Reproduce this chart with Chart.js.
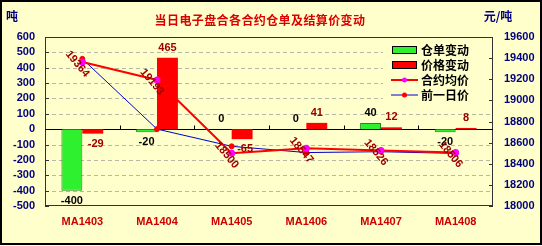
<!DOCTYPE html>
<html>
<head>
<meta charset="utf-8">
<script src="https://cdn.jsdelivr.net/npm/chart.js@4.4.1/dist/chart.umd.min.js"></script>
<style>
  html, body { margin: 0; padding: 0; background: #FFFFCC; }
  canvas { display: block; }
</style>
</head>
<body>
<canvas id="c" width="542" height="246"></canvas>
<script>
// Contracts and daily figures
const categories = ['MA1403', 'MA1404', 'MA1405', 'MA1406', 'MA1407', 'MA1408'];
const warrantChange = [-400, -20, 0, 0, 40, -20];          // 仓单变动 (吨)
const priceChange = [-29, 465, -65, 41, 12, 8];             // 价格变动 (元/吨)
const avgPrice = [19364, 19193, 18500, 18547, 18526, 18506];  // 合约均价
const prevPrice = [19393, 18728, 18565, 18506, 18514, 18498]; // 前一日价
const leftAxis = { min: -500, max: 600, step: 100 };
const rightAxis = { min: 18000, max: 19600, step: 200 };

const titleText = '当日电子盘合各合约仓单及结算价变动';
const leftUnit = '吨';
const rightUnit = '元/吨';
const legendItems = [
  { text: '仓单变动', kind: 'box', color: '#2EF02E' },
  { text: '价格变动', kind: 'box', color: '#FF0000' },
  { text: '合约均价', kind: 'line', color: '#FF0000', marker: '#FF00FF' },
  { text: '前一日价', kind: 'line', color: '#0000CC', marker: '#FF0000' }
];

const BG = '#FFFFCC';
const NUM_FONT = 'bold 11px "Liberation Sans", Arial, sans-serif';
const CJK_FONT = '"Noto Sans CJK SC", sans-serif';
const tickFont = { family: '"Liberation Sans", Arial, sans-serif', size: 11, weight: 'bold' };

const decorPlugin = {
  id: 'decor',
  beforeDraw(chart) {
    const ctx = chart.ctx;
    ctx.save();
    ctx.fillStyle = BG;
    ctx.fillRect(0, 0, chart.width, chart.height);
    ctx.restore();
  },
  beforeDatasetsDraw(chart) {
    const ctx = chart.ctx;
    const a = chart.chartArea;
    const y = chart.scales.y;
    ctx.save();
    // dashed horizontal grid
    ctx.strokeStyle = '#B8B8A8';
    ctx.lineWidth = 1;
    ctx.setLineDash([4, 3]);
    for (let v = leftAxis.min + leftAxis.step; v < leftAxis.max; v += leftAxis.step) {
      if (v === 0) continue;
      const py = Math.round(y.getPixelForValue(v)) + 0.5;
      ctx.beginPath(); ctx.moveTo(a.left, py); ctx.lineTo(a.right, py); ctx.stroke();
    }
    ctx.setLineDash([]);
    // legend backing
    ctx.fillStyle = BG;
    ctx.fillRect(383, a.top + 2, 107, 66);
    // plot frame
    ctx.strokeStyle = '#333';
    ctx.strokeRect(a.left + 0.5, a.top + 0.5, a.right - a.left - 1, a.bottom - a.top - 1);
    // axis tick marks
    for (let v = leftAxis.min; v <= leftAxis.max; v += leftAxis.step) {
      const py = Math.round(y.getPixelForValue(v)) + 0.5;
      ctx.beginPath(); ctx.moveTo(a.left, py); ctx.lineTo(a.left + 4, py); ctx.stroke();
    }
    const y1 = chart.scales.y1;
    for (let v = rightAxis.min; v <= rightAxis.max; v += rightAxis.step) {
      const py = Math.round(y1.getPixelForValue(v)) + 0.5;
      ctx.beginPath(); ctx.moveTo(a.right - 4, py); ctx.lineTo(a.right, py); ctx.stroke();
    }
    // zero line with category separators
    const zy = Math.round(y.getPixelForValue(0)) + 0.5;
    ctx.strokeStyle = '#000';
    ctx.beginPath(); ctx.moveTo(a.left, zy); ctx.lineTo(a.right, zy); ctx.stroke();
    const n = categories.length;
    const w = (a.right - a.left) / n;
    for (let i = 1; i < n; i++) {
      const px = Math.round(a.left + w * i) + 0.5;
      ctx.beginPath(); ctx.moveTo(px, zy); ctx.lineTo(px, zy - 4); ctx.stroke();
    }
    ctx.restore();
  },
  afterDatasetsDraw(chart) {
    const ctx = chart.ctx;
    ctx.save();
    ctx.font = NUM_FONT;
    ctx.textAlign = 'center';
    ctx.textBaseline = 'middle';
    // bar value labels
    [0, 1].forEach(di => {
      const meta = chart.getDatasetMeta(di);
      const data = chart.data.datasets[di].data;
      ctx.fillStyle = di === 0 ? '#000000' : '#A00000';
      meta.data.forEach((bar, i) => {
        const v = data[i];
        const py = v < 0 ? bar.y + 10 : bar.y - 10;
        ctx.fillText(String(v), bar.x + (di === 1 && v < 0 ? 3 : 0), py);
      });
    });
    // rotated average-price labels
    const lm = chart.getDatasetMeta(2);
    ctx.fillStyle = '#A00000';
    lm.data.forEach((pt, i) => {
      ctx.save();
      ctx.translate(pt.x - 5, pt.y + 2);
      ctx.rotate(50 * Math.PI / 180);
      ctx.fillText(String(avgPrice[i]), 0, 0);
      ctx.restore();
    });
    ctx.restore();
  },
  afterDraw(chart) {
    const ctx = chart.ctx;
    ctx.save();
    // title and units
    ctx.textBaseline = 'middle';
    ctx.textAlign = 'center';
    ctx.fillStyle = '#DD0000';
    ctx.font = 'bold 12px ' + CJK_FONT;
    ctx.letterSpacing = '0.4px';
    ctx.fillText(titleText, 260, 20);
    ctx.letterSpacing = '0px';
    ctx.fillStyle = '#000080';
    ctx.font = 'bold 12px ' + CJK_FONT;
    ctx.fillText(leftUnit, 12, 16);
    ctx.fillText(rightUnit, 498, 16);
    // legend
    ctx.textAlign = 'left';
    legendItems.forEach((it, i) => {
      const cy = 50 + i * 15;
      if (it.kind === 'box') {
        ctx.fillStyle = it.color;
        ctx.fillRect(392, cy - 4, 25, 8);
        ctx.strokeStyle = '#000';
        ctx.lineWidth = 1;
        ctx.strokeRect(392.5, cy - 3.5, 24, 7);
      } else {
        ctx.strokeStyle = it.color;
        ctx.lineWidth = it.color === '#FF0000' ? 2 : 1;
        ctx.beginPath(); ctx.moveTo(391, cy); ctx.lineTo(418, cy); ctx.stroke();
        ctx.fillStyle = it.marker;
        ctx.beginPath(); ctx.arc(404.5, cy, 2.5, 0, Math.PI * 2); ctx.fill();
      }
      ctx.fillStyle = '#000';
      ctx.font = 'bold 12px ' + CJK_FONT;
      ctx.fillText(it.text, 421, cy);
    });
    // outer frame
    ctx.strokeStyle = '#000';
    ctx.lineWidth = 2;
    ctx.strokeRect(1, 1, chart.width - 2, chart.height - 3);
    ctx.restore();
  }
};

new Chart(document.getElementById('c'), {
  type: 'bar',
  data: {
    labels: categories,
    datasets: [
      { type: 'bar', label: '仓单变动', data: warrantChange, yAxisID: 'y', order: 3,
        backgroundColor: '#2EF02E', borderColor: '#1A8A1A', borderWidth: 1,
        categoryPercentage: 0.56, barPercentage: 1 },
      { type: 'bar', label: '价格变动', data: priceChange, yAxisID: 'y', order: 3,
        backgroundColor: '#FF0000', borderColor: '#B00000', borderWidth: 0,
        categoryPercentage: 0.56, barPercentage: 1 },
      { type: 'line', label: '合约均价', data: avgPrice, yAxisID: 'y1', order: 1,
        borderColor: '#FF0000', borderWidth: 2, tension: 0,
        pointBackgroundColor: '#FF00FF', pointBorderColor: '#FF00FF', pointRadius: 2.5 },
      { type: 'line', label: '前一日价', data: prevPrice, yAxisID: 'y1', order: 2,
        borderColor: '#0000CC', borderWidth: 1, tension: 0,
        pointBackgroundColor: '#FF0000', pointBorderColor: '#FF0000', pointRadius: 2.5 }
    ]
  },
  options: {
    responsive: false,
    animation: false,
    layout: { padding: { top: 37, left: 0, right: 0, bottom: 0 } },
    plugins: { legend: { display: false }, tooltip: { enabled: false }, title: { display: false } },
    scales: {
      x: {
        grid: { display: false, drawTicks: false },
        border: { display: false },
        ticks: { color: '#CC0000', font: tickFont, padding: 9, maxRotation: 0 },
        afterFit: s => { s.height = 40; }
      },
      y: {
        position: 'left',
        min: leftAxis.min, max: leftAxis.max,
        grid: { display: false, drawTicks: false },
        border: { display: false },
        ticks: { stepSize: leftAxis.step, color: '#000080', padding: 10, autoSkip: false,
          font: tickFont, callback: v => String(v) },
        afterFit: s => { s.width = 45; }
      },
      y1: {
        position: 'right',
        min: rightAxis.min, max: rightAxis.max,
        grid: { display: false, drawTicks: false },
        border: { display: false },
        ticks: { stepSize: rightAxis.step, color: '#000080', padding: 11, autoSkip: false,
          font: tickFont, callback: v => String(v) },
        afterFit: s => { s.width = 49; }
      }
    }
  },
  plugins: [decorPlugin]
});
</script>
</body>
</html>
